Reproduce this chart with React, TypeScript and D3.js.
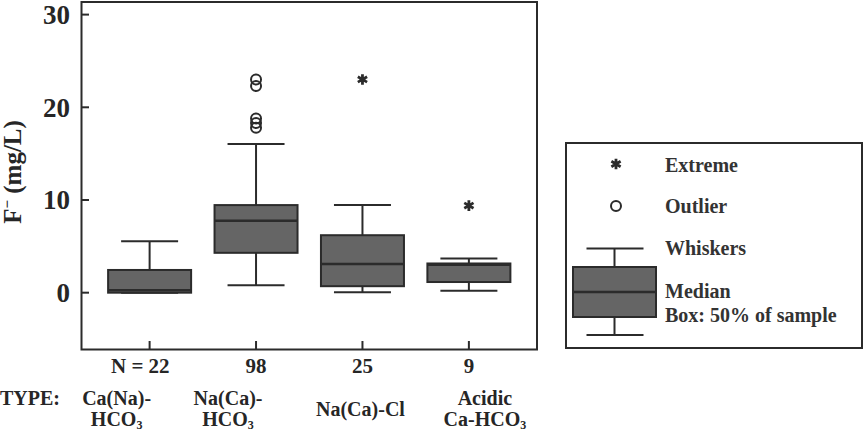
import React from "react";
import * as d3 from "d3";

const categories = ["Ca(Na)-HCO3", "Na(Ca)-HCO3", "Na(Ca)-Cl", "Acidic Ca-HCO3"];
const counts = [22, 98, 25, 9];
const whiskerLow = [0, 0.8, 0.05, 0.2];
const q1 = [0, 4.3, 0.7, 1.15];
const median = [0.25, 7.75, 3.1, 3.0];
const q3 = [2.45, 9.45, 6.2, 3.15];
const whiskerHigh = [5.55, 16.05, 9.45, 3.7];
const outliers = [[], [23.0, 22.3, 18.8, 18.3, 17.8], [], []];
const extremes = [[], [], [23.0], [9.4]];
const yTicks = [0, 10, 20, 30];
const typeLines = [["Ca(Na)-", "HCO|3"], ["Na(Ca)-", "HCO|3"], ["Na(Ca)-Cl"], ["Acidic", "Ca-HCO|3"]];
const legendItems = ["Extreme", "Outlier", "Whiskers", "Median", "Box: 50% of sample"];

const W = 868, H = 432;
const FONT = "'Liberation Serif', 'Times New Roman', serif";
const TXT = "#262626";
const STROKE = "#2b2b2b";
const FILL = "#656565";

const typeDx = [-33, -28, -2, 16];

function Sub({ s }: { s: string }) {
  const parts = s.split("|");
  if (parts.length === 1) return <>{s}</>;
  return (
    <>
      <tspan>{parts[0]}</tspan>
      <tspan dy={3} fontSize={12}>{parts[1]}</tspan>
    </>
  );
}

export default function App() {
  const x = d3.scalePoint<string>().domain(categories).range([81.5, 537]).padding(0.64);
  const y = d3.scaleLinear().domain([-6.13, 31.36]).range([349.5, 2]);
  const boxW = 83;
  const capW = 57;
  const star = d3.symbol().type(d3.symbolAsterisk).size(80)();

  return (
    <svg width={W} height={H} style={{ position: "absolute", left: 0, top: 0, background: "#fff" }} fontFamily={FONT}>
      <rect x={81.5} y={2} width={537 - 81.5} height={349.5 - 2} fill="none" stroke={STROKE} strokeWidth={2} />
      {yTicks.map((t) => (
        <g key={t}>
          <line x1={81.5} x2={89} y1={y(t)} y2={y(t)} stroke={STROKE} strokeWidth={2} />
          <text x={70} y={y(t)} dy="0.35em" textAnchor="end" fontSize={27} fontWeight="bold" fill={TXT}>{t}</text>
        </g>
      ))}
      <text transform={`translate(21,172) rotate(-90)`} textAnchor="middle" fontSize={25} fontWeight="bold" fill={TXT}>
        F<tspan dy={-9} fontSize={15}>−</tspan><tspan dy={9}> (mg/L)</tspan>
      </text>
      {categories.map((c, i) => {
        const cx = x(c)!;
        return (
          <g key={c}>
            <line x1={cx} x2={cx} y1={y(whiskerHigh[i])} y2={y(q3[i])} stroke={STROKE} strokeWidth={2} />
            <line x1={cx} x2={cx} y1={y(whiskerLow[i])} y2={y(q1[i])} stroke={STROKE} strokeWidth={2} />
            <line x1={cx - capW / 2} x2={cx + capW / 2} y1={y(whiskerHigh[i])} y2={y(whiskerHigh[i])} stroke={STROKE} strokeWidth={2} />
            <line x1={cx - capW / 2} x2={cx + capW / 2} y1={y(whiskerLow[i])} y2={y(whiskerLow[i])} stroke={STROKE} strokeWidth={2} />
            <rect x={cx - boxW / 2} y={y(q3[i])} width={boxW} height={y(q1[i]) - y(q3[i])} fill={FILL} stroke={STROKE} strokeWidth={2} />
            <line x1={cx - boxW / 2} x2={cx + boxW / 2} y1={y(median[i])} y2={y(median[i])} stroke={STROKE} strokeWidth={2.5} />
            {outliers[i].map((v, k) => (
              <circle key={k} cx={cx} cy={y(v)} r={5} fill="none" stroke={STROKE} strokeWidth={2} />
            ))}
            {extremes[i].map((v, k) => (
              <path key={k} d={star} transform={`translate(${cx},${y(v)})`} stroke={STROKE} strokeWidth={2.8} fill="none" />
            ))}
            <line x1={cx} x2={cx} y1={349.5} y2={341} stroke={STROKE} strokeWidth={2} />
            <text x={i === 0 ? cx + 20 : cx} y={373} textAnchor={i === 0 ? "end" : "middle"} fontSize={21} fontWeight="bold" fill={TXT}>
              {i === 0 ? `N = ${counts[i]}` : counts[i]}
            </text>
            {typeLines[i].map((ln, k) => (
              <text key={k} x={cx + typeDx[i]} y={typeLines[i].length === 1 ? 416 : 405 + k * 21} textAnchor="middle" fontSize={20} fontWeight="bold" fill={TXT}>
                <Sub s={ln} />
              </text>
            ))}
          </g>
        );
      })}
      <text x={0} y={405} fontSize={20} fontWeight="bold" fill={TXT}>TYPE:</text>
      <rect x={566} y={143} width={862 - 566} height={348 - 143} fill="none" stroke={STROKE} strokeWidth={2} />
      <path d={star} transform="translate(616,164)" stroke={STROKE} strokeWidth={2.8} fill="none" />
      <circle cx={616} cy={206} r={5} fill="none" stroke={STROKE} strokeWidth={2} />
      <line x1={614.5} x2={614.5} y1={248.5} y2={335} stroke={STROKE} strokeWidth={2} />
      <line x1={586.5} x2={643.5} y1={248.5} y2={248.5} stroke={STROKE} strokeWidth={2} />
      <line x1={586.5} x2={643.5} y1={335} y2={335} stroke={STROKE} strokeWidth={2} />
      <rect x={573} y={267} width={83} height={50} fill={FILL} stroke={STROKE} strokeWidth={2} />
      <line x1={573} x2={656} y1={292} y2={292} stroke={STROKE} strokeWidth={2.5} />
      {legendItems.map((t, i) => (
        <text key={t} x={665} y={[171.5, 213, 255, 298, 322][i]} fontSize={20} fontWeight="bold" fill="#333">{t}</text>
      ))}
    </svg>
  );
}
